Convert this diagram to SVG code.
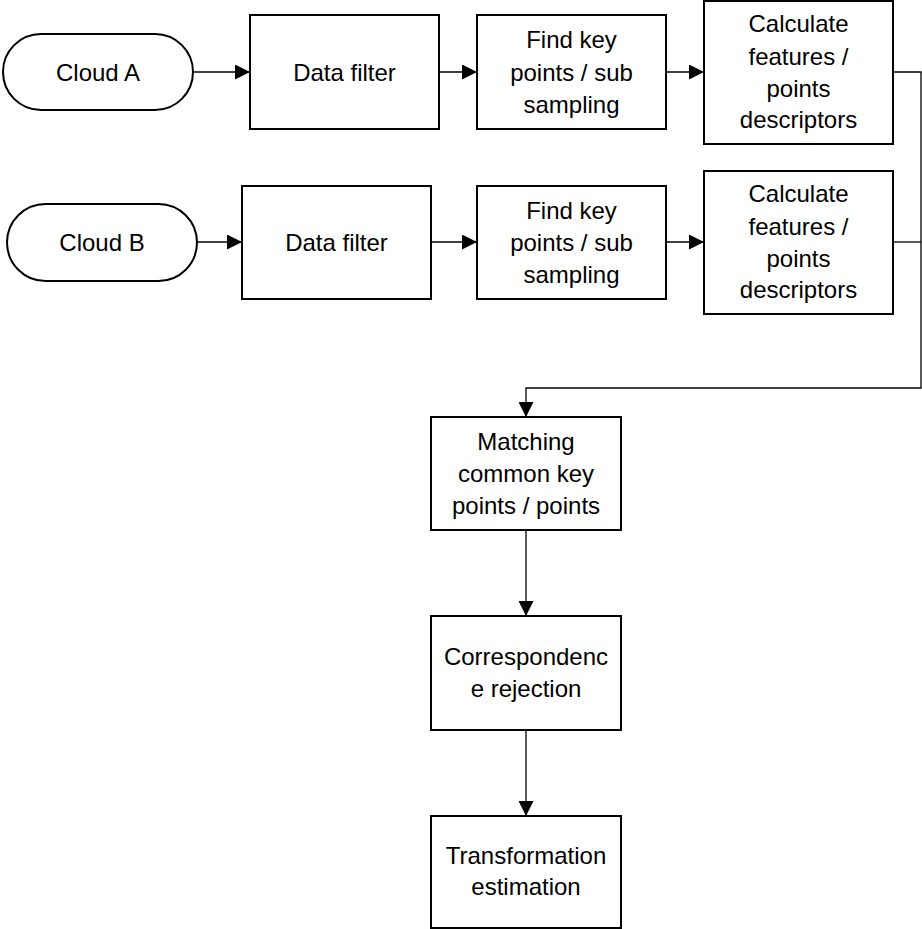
<svg xmlns="http://www.w3.org/2000/svg" width="922" height="929" viewBox="0 0 922 929">
<style>
.box{fill:#fff;stroke:#000;stroke-width:2}
.t{font-family:"Liberation Sans",Arial,sans-serif;font-size:24px;fill:#000;text-anchor:middle}
.c{fill:none;stroke:#000;stroke-width:1.3}
</style>
<defs>
<marker id="arr" markerUnits="userSpaceOnUse" markerWidth="15" markerHeight="15" viewBox="0 0 15 15" refX="15" refY="7.5" orient="auto">
<path d="M0,0 L15,7.5 L0,15 Z" fill="#000"/>
</marker>
</defs>
<rect width="922" height="929" fill="#fff"/>
<g id="connectors">
<line class="c" x1="193" y1="72" x2="250" y2="72" marker-end="url(#arr)"/>
<line class="c" x1="439" y1="72" x2="477" y2="72" marker-end="url(#arr)"/>
<line class="c" x1="666" y1="72" x2="704" y2="72" marker-end="url(#arr)"/>
<polyline class="c" points="893,72 921,72 921,388 526,388 526,417" marker-end="url(#arr)"/>
<polyline class="c" points="893,242 921,242"/>
<line class="c" x1="197" y1="242" x2="242" y2="242" marker-end="url(#arr)"/>
<line class="c" x1="431" y1="242" x2="477" y2="242" marker-end="url(#arr)"/>
<line class="c" x1="666" y1="242" x2="704" y2="242" marker-end="url(#arr)"/>
<line class="c" x1="526" y1="530" x2="526" y2="616" marker-end="url(#arr)"/>
<line class="c" x1="526" y1="730" x2="526" y2="816" marker-end="url(#arr)"/>
</g>
<g id="cloudA"><rect class="box" x="3" y="34" width="190" height="76" rx="38"/><text class="t" x="98" y="81">Cloud A</text></g>
<g id="filterA"><rect class="box" x="250" y="15" width="189" height="114"/><text class="t" x="344.5" y="81">Data filter</text></g>
<g id="keyA"><rect class="box" x="477" y="15" width="189" height="114"/><text class="t" x="571.5" y="48">Find key</text><text class="t" x="571.5" y="81">points / sub</text><text class="t" x="571.5" y="113">sampling</text></g>
<g id="calcA"><rect class="box" x="704" y="1" width="189" height="143"/><text class="t" x="798.5" y="32">Calculate</text><text class="t" x="798.5" y="65">features /</text><text class="t" x="798.5" y="97">points</text><text class="t" x="798.5" y="128">descriptors</text></g>
<g id="cloudB"><rect class="box" x="7" y="204" width="190" height="77" rx="38.5"/><text class="t" x="102" y="251">Cloud B</text></g>
<g id="filterB"><rect class="box" x="242" y="186" width="189" height="113"/><text class="t" x="336.5" y="251">Data filter</text></g>
<g id="keyB"><rect class="box" x="477" y="186" width="189" height="113"/><text class="t" x="571.5" y="219">Find key</text><text class="t" x="571.5" y="251">points / sub</text><text class="t" x="571.5" y="283">sampling</text></g>
<g id="calcB"><rect class="box" x="704" y="171" width="189" height="143"/><text class="t" x="798.5" y="202">Calculate</text><text class="t" x="798.5" y="235">features /</text><text class="t" x="798.5" y="267">points</text><text class="t" x="798.5" y="298">descriptors</text></g>
<g id="matching"><rect class="box" x="431" y="417" width="190" height="113"/><text class="t" x="526" y="450">Matching</text><text class="t" x="526" y="482">common key</text><text class="t" x="526" y="514">points / points</text></g>
<g id="rejection"><rect class="box" x="431" y="616" width="190" height="114"/><text class="t" x="526" y="665">Correspondenc</text><text class="t" x="526" y="697">e rejection</text></g>
<g id="estimation"><rect class="box" x="431" y="816" width="190" height="112"/><text class="t" x="526" y="864">Transformation</text><text class="t" x="526" y="895">estimation</text></g>
</svg>
